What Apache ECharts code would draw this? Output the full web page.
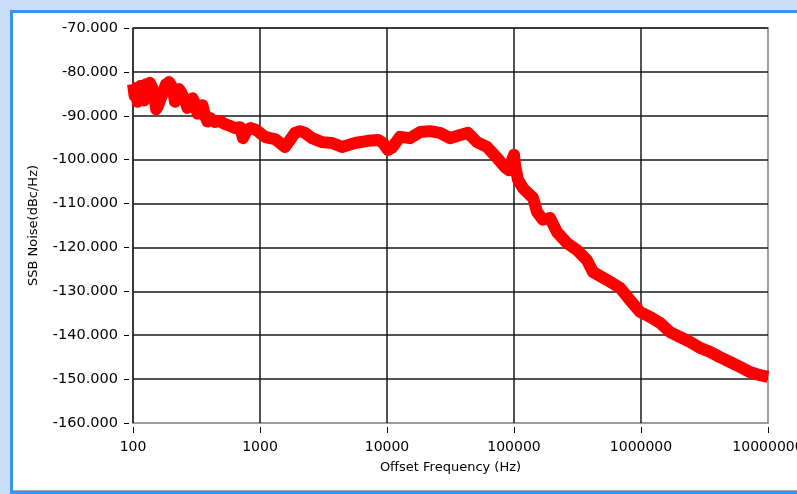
<!DOCTYPE html>
<html>
<head>
<meta charset="utf-8">
<script src="https://cdn.jsdelivr.net/npm/echarts@6/dist/echarts.min.js"></script>
<style>
html,body{margin:0;padding:0;background:#c9def6;overflow:hidden;}
#chart{width:797px;height:494px;}
</style>
</head>
<body>
<div id="chart"></div>
<script>
const freqs = [100,103,105.6,108.5,111.5,114.5,117.7,122,126.6,131,136.1,141,146.4,152,157.4,163,169.2,175,181.9,187,
192.1,199,206.5,214,222.1,230,238.8,247,256.7,268,281,294,307.7,322,337,352,368.9,386,404,
442.3,484.2,530.2,580.4,635.5,695.8,734.6,790.1,849.3,930,
1000,1095,1199,1313,1437,1573,1723,1886,2065,2261,
2567,3077,3689,4423,5598,7086,8495,9300,10183,10950,
12659,15177,18192,21807,26147,31342,37571,43420,51120,61290,
73480,84930,91330,96450,100000,101830,107520,117750,141140,151720,
169210,192100,218100,261500,313400,375700,418800,539900,683300,819200,
982000,1177000,1411000,1692000,2028000,2431000,2915000,3494000,4188000,5021000,
6019000,7216000,8650000,10000000];
const noise = [-82.8,-85.5,-83.7,-86.8,-85.3,-83.2,-84.6,-86.5,-82.8,-84.8,-82.5,-83.5,-84.6,-88.5,-87.8,-86.5,-85.3,-84.2,-82.8,-83.8,
-82.3,-83.0,-84.1,-86.8,-85.0,-83.9,-84.6,-85.5,-86.4,-88.2,-87.3,-86.0,-87.1,-89.5,-88.7,-87.6,-90.0,-91.3,-90.5,
-91.4,-91.2,-91.9,-92.3,-92.8,-92.6,-95.1,-93.2,-92.8,-93.2,
-93.9,-94.8,-95.1,-95.3,-96.2,-97.1,-95.5,-93.9,-93.5,-93.9,
-95.1,-96.0,-96.2,-97.1,-96.2,-95.7,-95.5,-96.2,-97.8,-97.3,
-94.8,-95.1,-93.7,-93.5,-93.9,-95.1,-94.4,-93.9,-96.0,-97.1,
-99.6,-101.7,-102.4,-100.1,-98.9,-101.2,-104.6,-106.5,-108.7,-111.9,
-113.7,-113.3,-116.5,-119.0,-120.6,-122.9,-125.6,-127.4,-129.2,-132.0,
-134.7,-135.8,-137.2,-139.3,-140.4,-141.5,-142.9,-143.8,-145.0,-146.1,
-147.2,-148.4,-149.1,-149.5];
const xTitle = 'Offset Frequency (Hz)';
const yTitle = 'SSB Noise(dBc/Hz)';
const yMin = -160, yMax = -70, yStep = 10;
const xMin = 100, xMax = 10000000;

const chart = echarts.init(document.getElementById('chart'), null, {renderer:'canvas'});
const font = 'DejaVu Sans';
chart.setOption({
  animation: false,
  backgroundColor: '#c9def6',
  graphic: [
    {type:'rect', z:-100, shape:{x:10,y:10,width:800,height:484}, style:{fill:'#3f91ef'}},
    {type:'rect', z:-99, shape:{x:13,y:13,width:800,height:477}, style:{fill:'#ffffff'}},
    {type:'rect', z:-98, shape:{x:13,y:490,width:800,height:1}, style:{fill:'#a8a8a8'}}
  ],
  grid: {left:133, top:28, right:29, bottom:71, outerBoundsMode:'none', containLabel:false,
         show:true, backgroundColor:'#ffffff', borderColor:'#9c9c9c', borderWidth:2},
  xAxis: {
    type:'log', logBase:10, min:xMin, max:xMax, offset:4,
    name:xTitle, nameLocation:'middle', nameGap:34,
    nameTextStyle:{fontFamily:font, fontSize:13, color:'#000'},
    axisLine:{show:false},
    axisTick:{show:true, length:6, lineStyle:{color:'#000', width:1}},
    axisLabel:{fontFamily:font, fontSize:14, color:'#000', margin:13, hideOverlap:false, formatter:v=>String(Math.round(v))},
    splitLine:{show:true, showMaxLine:false, lineStyle:{color:'#1a1a1a', width:1.5}},
    minorTick:{show:false}
  },
  yAxis: {
    type:'value', min:yMin, max:yMax, interval:yStep, offset:4,
    name:yTitle, nameLocation:'middle', nameGap:89, nameRotate:90,
    nameTextStyle:{fontFamily:font, fontSize:13, color:'#000'},
    axisLine:{show:false},
    axisTick:{show:true, length:5, lineStyle:{color:'#000', width:1}},
    axisLabel:{fontFamily:font, fontSize:14.5, color:'#000', margin:11, formatter:v=>v.toFixed(3)},
    splitLine:{show:true, showMinLine:false, lineStyle:{color:'#1a1a1a', width:1.5}}
  },
  series: [{
    type:'line',
    data: freqs.map((f,i)=>[f, noise[i]]),
    showSymbol:false, smooth:false, clip:true,
    lineStyle:{color:'#ff0000', width:12, cap:'butt', join:'round'},
    z:5
  }]
});
</script>
</body>
</html>
